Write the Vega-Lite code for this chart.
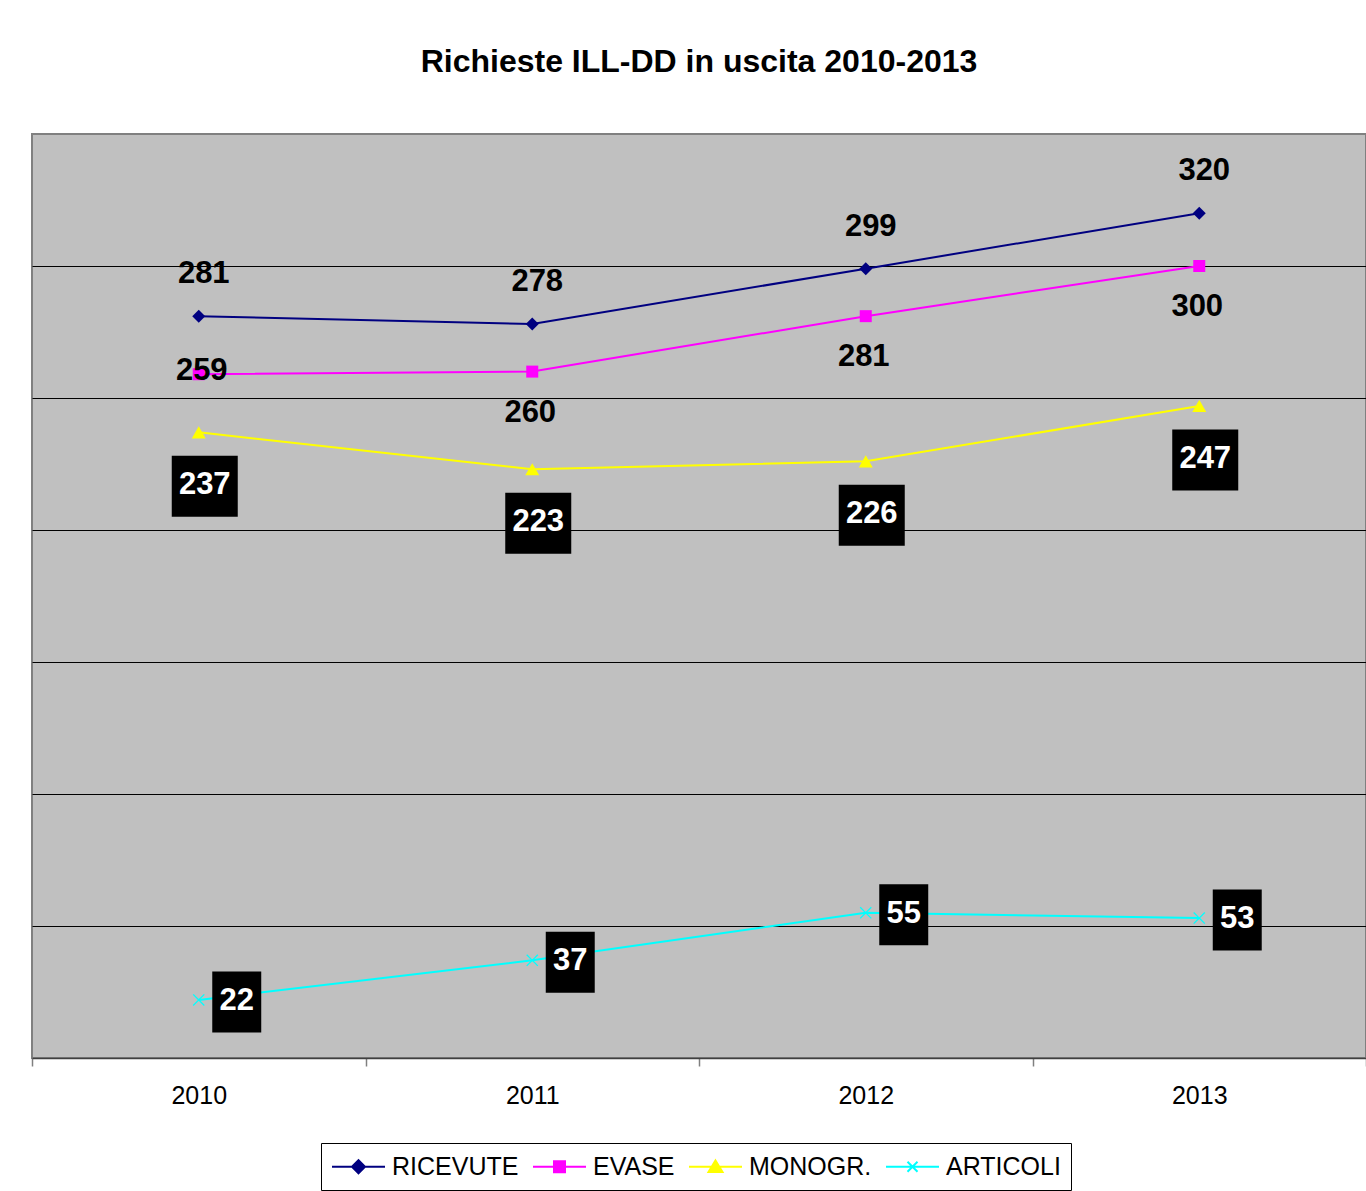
{
  "$schema": "https://vega.github.io/schema/vega-lite/v6.json",
  "width": 1334,
  "height": 924,
  "autosize": "none",
  "padding": {"left": 32, "top": 134, "right": 0, "bottom": 133},
  "background": "white",
  "config": {
    "font": "Liberation Sans",
    "view": {"fill": "#C0C0C0", "stroke": "#808080", "strokeWidth": 2}
  },
  "title": {
    "text": "Richieste ILL-DD in uscita 2010-2013",
    "font": "Liberation Sans",
    "fontSize": 32,
    "fontWeight": "bold",
    "color": "black",
    "anchor": "middle",
    "baseline": "alphabetic",
    "offset": 30
  },
  "data": {
    "values": [
      {"anno": "2010", "serie": "RICEVUTE", "valore": 281},
      {"anno": "2011", "serie": "RICEVUTE", "valore": 278},
      {"anno": "2012", "serie": "RICEVUTE", "valore": 299},
      {"anno": "2013", "serie": "RICEVUTE", "valore": 320},
      {"anno": "2010", "serie": "EVASE", "valore": 259},
      {"anno": "2011", "serie": "EVASE", "valore": 260},
      {"anno": "2012", "serie": "EVASE", "valore": 281},
      {"anno": "2013", "serie": "EVASE", "valore": 300},
      {"anno": "2010", "serie": "MONOGR.", "valore": 237},
      {"anno": "2011", "serie": "MONOGR.", "valore": 223},
      {"anno": "2012", "serie": "MONOGR.", "valore": 226},
      {"anno": "2013", "serie": "MONOGR.", "valore": 247},
      {"anno": "2010", "serie": "ARTICOLI", "valore": 22},
      {"anno": "2011", "serie": "ARTICOLI", "valore": 37},
      {"anno": "2012", "serie": "ARTICOLI", "valore": 55},
      {"anno": "2013", "serie": "ARTICOLI", "valore": 53}
    ]
  },
  "encoding": {
    "x": {
      "field": "anno",
      "type": "ordinal",
      "title": null,
      "scale": {"type": "band", "paddingInner": 0, "paddingOuter": 0},
      "axis": {
        "labelAngle": 0,
        "labelFont": "Liberation Sans",
        "labelFontSize": 25,
        "labelColor": "black",
        "labelPadding": 17,
        "tickBand": "extent",
        "tickColor": "#808080",
        "tickSize": 8,
        "tickWidth": 1.5,
        "domainColor": "#404040",
        "domainWidth": 1.5,
        "grid": false
      }
    },
    "y": {
      "field": "valore",
      "type": "quantitative",
      "title": null,
      "scale": {"domain": [0, 350], "nice": false},
      "axis": {
        "values": [50, 100, 150, 200, 250, 300],
        "labels": false,
        "ticks": false,
        "domain": false,
        "grid": true,
        "gridColor": "black",
        "gridWidth": 1,
        "gridOpacity": 1
      }
    }
  },
  "layer": [
    {
      "mark": {"type": "line", "strokeWidth": 2},
      "encoding": {
        "color": {
          "field": "serie",
          "type": "nominal",
          "scale": {
            "domain": ["RICEVUTE", "EVASE", "MONOGR.", "ARTICOLI"],
            "range": ["#000080", "#FF00FF", "#FFFF00", "#00FFFF"]
          },
          "legend": {
            "orient": "none",
            "legendX": 289,
            "legendY": 1009,
            "direction": "horizontal",
            "title": null,
            "strokeColor": "black",
            "fillColor": "white",
            "padding": 10,
            "labelFont": "Liberation Sans",
            "labelFontSize": 25,
            "labelColor": "black",
            "labelLimit": 300,
            "labelOffset": 34,
            "columnPadding": 10,
            "symbolSize": 625,
            "symbolStrokeWidth": 2,
            "encode": {
              "symbols": {
                "update": {
                  "shape": {"signal": "datum.value === 'RICEVUTE' ? 'M-1,0L3.24,0M0.6,0L1.12,-0.52L1.64,0L1.12,0.52Z' : datum.value === 'EVASE' ? 'M-1,0L3.24,0M0.68,-0.44L1.56,-0.44L1.56,0.44L0.68,0.44Z' : datum.value === 'MONOGR.' ? 'M-1,0L3.24,0M1.12,-0.5L1.68,0.42L0.56,0.42Z' : 'M-1,0L3.24,0M0.72,-0.4L1.52,0.4M0.72,0.4L1.52,-0.4'"},
                  "strokeWidth": {"value": 2},
                  "opacity": {"value": 1}
                }
              }
            }
          }
        }
      }
    },
    {
      "transform": [{"filter": "datum.serie === 'RICEVUTE'"}],
      "mark": {"type": "point", "filled": true, "opacity": 1, "shape": "diamond", "size": 169},
      "encoding": {"color": {"field": "serie", "type": "nominal"}}
    },
    {
      "transform": [{"filter": "datum.serie === 'EVASE'"}],
      "mark": {"type": "point", "filled": true, "opacity": 1, "shape": "square", "size": 144},
      "encoding": {"color": {"field": "serie", "type": "nominal"}}
    },
    {
      "transform": [{"filter": "datum.serie === 'MONOGR.'"}],
      "mark": {"type": "point", "filled": true, "opacity": 1, "shape": "triangle-up", "size": 196},
      "encoding": {"color": {"field": "serie", "type": "nominal"}}
    },
    {
      "transform": [{"filter": "datum.serie === 'ARTICOLI'"}],
      "mark": {"type": "point", "filled": true, "opacity": 1, "shape": "M-1,-0.85L-0.85,-1L0,-0.15L0.85,-1L1,-0.85L0.15,0L1,0.85L0.85,1L0,0.15L-0.85,1L-1,0.85L-0.15,0Z", "size": 144},
      "encoding": {"color": {"field": "serie", "type": "nominal"}}
    },
    {
      "transform": [{"filter": "datum.serie === 'RICEVUTE'"}],
      "mark": {"type": "text", "font": "Liberation Sans", "fontSize": 31, "fontWeight": "bold", "color": "black", "baseline": "middle", "align": "center", "dx": 5, "dy": -42},
      "encoding": {"text": {"field": "valore", "type": "quantitative"}}
    },
    {
      "transform": [{"filter": "datum.serie === 'EVASE' && datum.anno !== '2010'"}],
      "mark": {"type": "text", "font": "Liberation Sans", "fontSize": 31, "fontWeight": "bold", "color": "black", "baseline": "middle", "align": "center", "dx": -2, "dy": 41},
      "encoding": {"text": {"field": "valore", "type": "quantitative"}}
    },
    {
      "transform": [{"filter": "datum.serie === 'EVASE' && datum.anno === '2010'"}],
      "mark": {"type": "text", "font": "Liberation Sans", "fontSize": 31, "fontWeight": "bold", "color": "black", "baseline": "middle", "align": "center", "dx": 3, "dy": -3},
      "encoding": {"text": {"field": "valore", "type": "quantitative"}}
    },
    {
      "transform": [{"filter": "datum.serie === 'MONOGR.'"}],
      "mark": {"type": "point", "filled": true, "opacity": 1, "color": "black", "shape": "M-1.082,-1L1.082,-1L1.082,1L-1.082,1Z", "size": 3721, "xOffset": 6, "yOffset": 54},
      "encoding": {}
    },
    {
      "transform": [{"filter": "datum.serie === 'MONOGR.'"}],
      "mark": {"type": "text", "font": "Liberation Sans", "fontSize": 31, "fontWeight": "bold", "color": "white", "baseline": "middle", "align": "center", "dx": 6, "dy": 53},
      "encoding": {"text": {"field": "valore", "type": "quantitative"}}
    },
    {
      "transform": [{"filter": "datum.serie === 'ARTICOLI'"}],
      "mark": {"type": "point", "filled": true, "opacity": 1, "color": "black", "shape": "M-0.803,-1L0.803,-1L0.803,1L-0.803,1Z", "size": 3721, "xOffset": 38, "yOffset": 2},
      "encoding": {}
    },
    {
      "transform": [{"filter": "datum.serie === 'ARTICOLI'"}],
      "mark": {"type": "text", "font": "Liberation Sans", "fontSize": 31, "fontWeight": "bold", "color": "white", "baseline": "middle", "align": "center", "dx": 38, "dy": 1},
      "encoding": {"text": {"field": "valore", "type": "quantitative"}}
    }
  ]
}
